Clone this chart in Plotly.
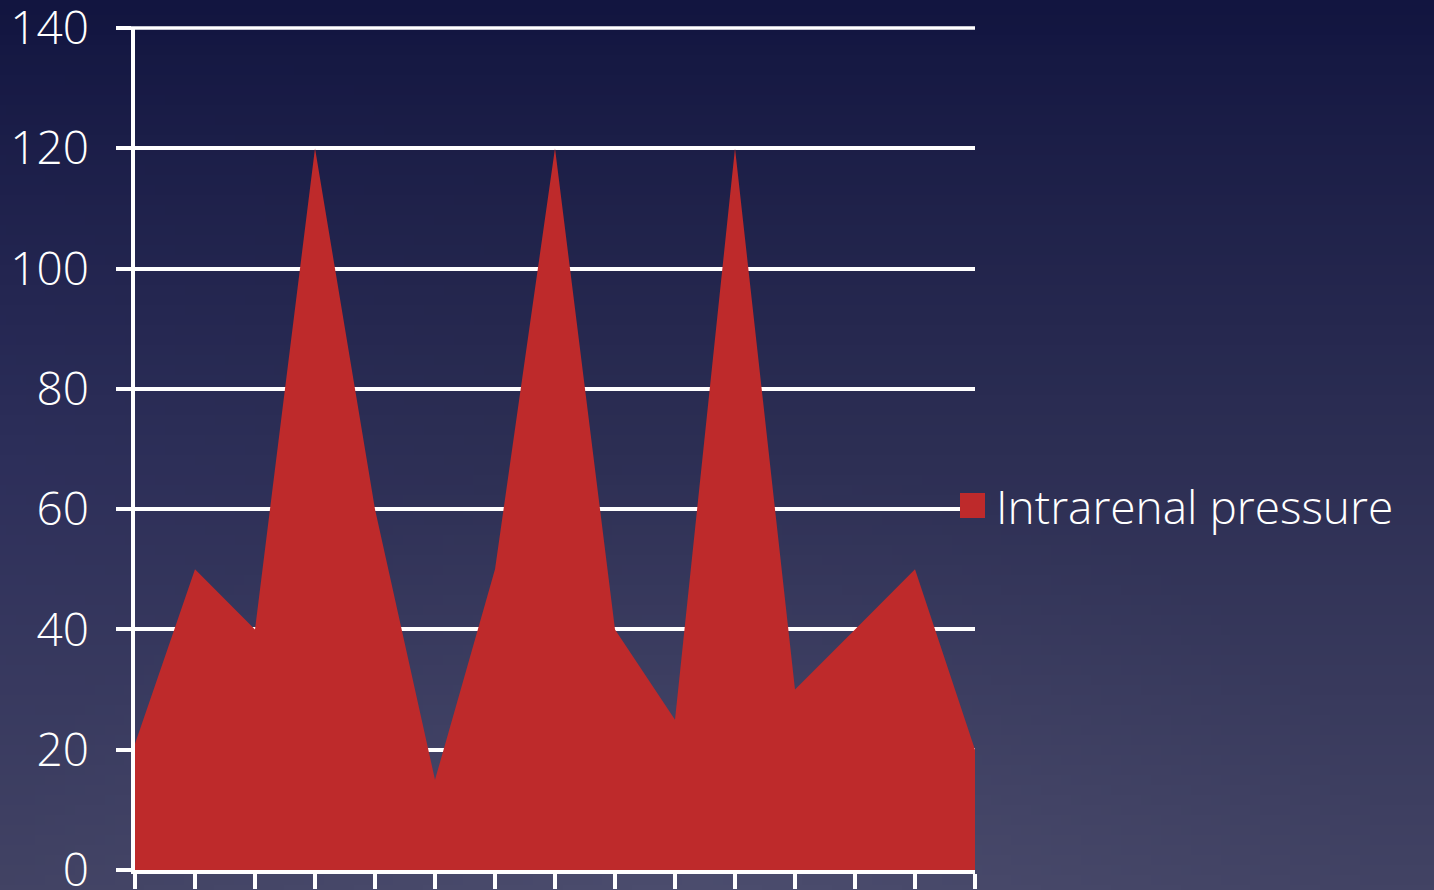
import base64, struct, zlib, math
import plotly.graph_objects as go

# ---------------- data ----------------
x_points = list(range(15))
pressure = [21, 50, 40, 120, 60, 15, 50, 120, 40, 25, 120, 30, 40, 50, 20]
y_ticks = [0, 20, 40, 60, 80, 100, 120, 140]
series_name = "Intrarenal pressure"

W, H = 1434, 890
L, R, T, B = 135, 975, 28, 870  # plot area in pixels
PW, PH = R - L, B - T
LW = 3.5


def px_x(p):
    return (p - L) / PW


def px_y(p):
    return (B - p) / PH


# ---------------- background gradient image ----------------
def make_bg(w=144, h=89):
    top = (18, 21, 64)
    bot = (66, 67, 100)
    rows = []
    for j in range(h):
        t = (j / (h - 1)) ** 0.85
        row = bytearray([0])
        for i in range(w):
            xr = i / (w - 1) * W
            yr = j / (h - 1) * H
            d = math.hypot((xr - 700) / 700, (yr - 900) / 450)
            boost = max(0.0, 1 - d) * 10
            blue = max(0.0, 1 - abs(xr) / 500) * max(0.0, 1 - abs(yr - 450) / 450) * 6
            c = [top[k] + (bot[k] - top[k]) * t for k in range(3)]
            c[0] += boost
            c[1] += boost
            c[2] += boost + blue
            row += bytes(int(max(0, min(255, v))) for v in c)
        rows.append(bytes(row))
    raw = b"".join(rows)

    def chunk(tag, data):
        return struct.pack(">I", len(data)) + tag + data + struct.pack(">I", zlib.crc32(tag + data) & 0xFFFFFFFF)

    png = b"\x89PNG\r\n\x1a\n"
    png += chunk(b"IHDR", struct.pack(">IIBBBBB", w, h, 8, 2, 0, 0, 0))
    png += chunk(b"IDAT", zlib.compress(raw, 9))
    png += chunk(b"IEND", b"")
    return "data:image/png;base64," + base64.b64encode(png).decode()


bg_src = make_bg()

FONT = "Open Sans"
RED = "#BE2A2B"
LABEL_FONT = dict(family=FONT, size=46, color="white", weight=300)

fig = go.Figure()
fig.add_trace(go.Scatter(
    x=x_points, y=pressure, mode="lines", fill="tozeroy",
    fillcolor=RED, line=dict(width=0, color=RED), name=series_name,
    showlegend=False, hoverinfo="skip",
))

fig.update_layout(
    width=W, height=H, autosize=False,
    margin=dict(l=L, r=W - R, t=T, b=H - B, pad=0, autoexpand=False),
    paper_bgcolor="#1e2150",
    plot_bgcolor="rgba(0,0,0,0)",
    font=LABEL_FONT,
    showlegend=False,
    images=[dict(
        source=bg_src, xref="paper", yref="paper",
        x=px_x(0), y=px_y(0), sizex=W / PW, sizey=H / PH,
        xanchor="left", yanchor="top", sizing="stretch", layer="below",
    )],
    shapes=[
        dict(type="line", xref="paper", yref="paper",
             x0=px_x(120), x1=1, y0=1, y1=1,
             line=dict(color="white", width=LW), layer="below"),
        dict(type="rect", xref="paper", yref="paper",
             x0=px_x(960), x1=px_x(985), y0=px_y(518), y1=px_y(493),
             fillcolor=RED, line=dict(width=0)),
    ],
    annotations=[dict(
        text=series_name, xref="paper", yref="paper",
        x=px_x(994), y=px_y(506), xanchor="left", yanchor="middle",
        showarrow=False, font=LABEL_FONT,
    )],
)

fig.update_xaxes(
    range=[0, 14], tickvals=x_points, ticktext=[""] * len(x_points),
    showgrid=False, zeroline=False, automargin=False,
    showline=True, linecolor="white", linewidth=LW,
    ticks="outside", ticklen=15, tickwidth=LW, tickcolor="white",
    fixedrange=True,
)
fig.update_yaxes(
    range=[0, 140], tickvals=y_ticks,
    showgrid=True, gridcolor="white", gridwidth=LW, zeroline=False, automargin=False,
    showline=True, linecolor="white", linewidth=LW,
    ticks="outside", ticklen=15, tickwidth=LW, tickcolor="white",
    ticklabelstandoff=18, ticklabeloverflow="allow",
    tickfont=LABEL_FONT,
    fixedrange=True,
)

fig.write_html("out.html", config=dict(displayModeBar=False))
